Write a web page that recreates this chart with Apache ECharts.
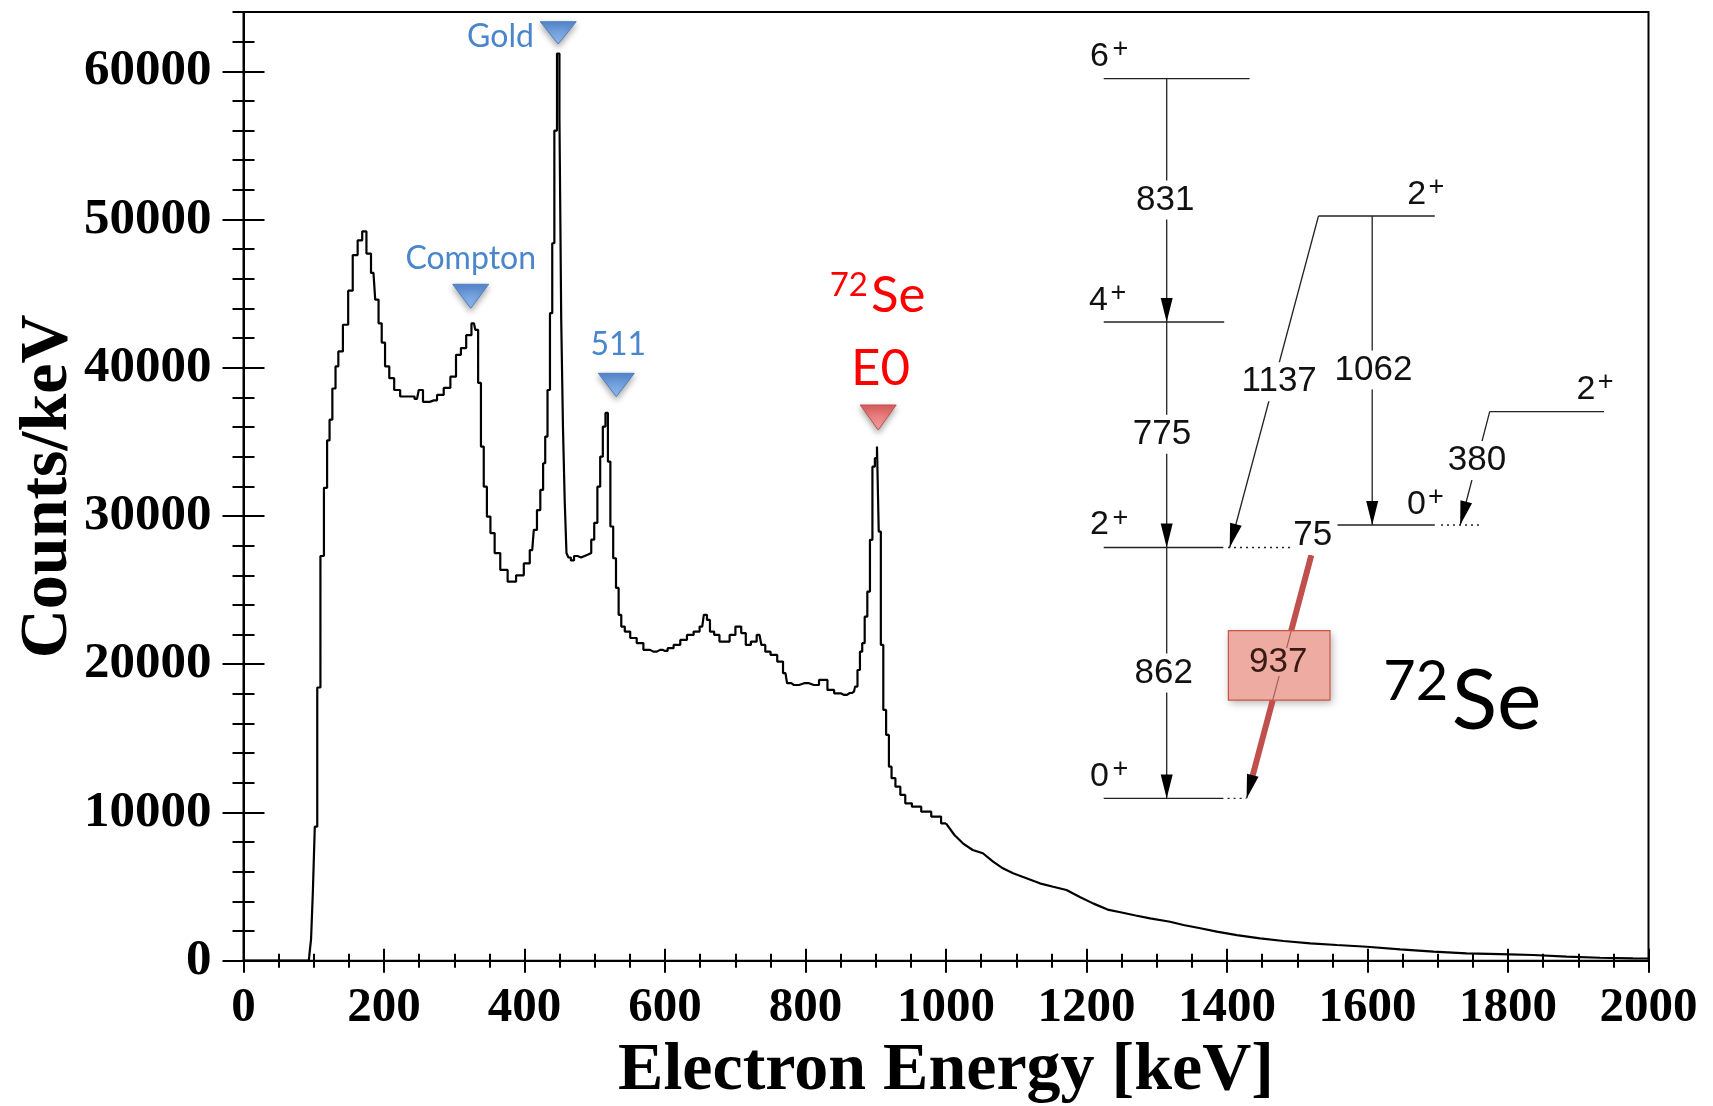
<!DOCTYPE html>
<html>
<head>
<meta charset="utf-8">
<script src="https://cdn.jsdelivr.net/npm/echarts@6/dist/echarts.min.js"></script>
<style>
html,body{margin:0;padding:0;background:#fff;}
#chart{width:1713px;height:1106px;}
</style>
</head>
<body>
<div id="chart"></div>
<script>
// ---- data ----
const energy = [0, 93, 95, 97.4, 100, 103, 107, 112, 117, 121, 124, 129, 133, 137, 146, 152, 159, 166, 172, 178,
  185, 190, 194.5, 199, 204, 211, 218, 228, 240, 247, 252, 259, 271, 280, 290, 299, 306, 313, 321, 328,
  332, 336, 340, 344, 349, 354, 361, 370, 382, 394, 404, 411, 415.5, 420, 425, 428, 431, 434.5, 438, 441,
  444, 448.5, 451, 453.5, 456, 458.5, 461, 464, 468, 473, 478, 483, 488, 493, 497, 501.5, 506, 509.5, 513.5, 517,
  520.5, 524, 528.5, 532, 536, 539.5, 546, 555, 564.5, 574, 583.5, 593, 600, 607.5, 617, 626.5, 636, 645.5, 653, 657.5,
  662, 666, 674, 681, 688.5, 695.5, 705, 712, 718, 726.5, 734.5, 740, 745.5, 755, 764.5, 771.5, 776, 783.5, 798, 812,
  826.5, 836, 845.5, 855, 863, 869, 872, 876, 879, 882.5, 886, 890, 893.5, 897, 900.5, 903, 905.5, 909, 912.5, 917,
  920.5, 924.5, 931.5, 938.5, 945.5, 957.5, 972, 986, 1000, 1012, 1024, 1038, 1052.5, 1067, 1081, 1095.5, 1114.5, 1133.5, 1152.5, 1171.5,
  1190.5, 1210, 1230, 1250, 1270, 1290.5, 1319, 1338, 1362, 1385.5, 1414, 1447, 1480.5, 1518.5, 1556.5, 1599, 1646.5, 1694, 1741, 1788.5,
  1836, 1883.5, 1931, 1978, 2000];
const counts = [0, 0, 500, 1480, 4610, 9050, 18430, 27300, 31900, 35100, 36500, 38600, 40100, 41100, 42900, 45200, 47600, 48600, 49200, 47700,
  46400, 44600, 43000, 41700, 40100, 39300, 38500, 38060, 38060, 37900, 38500, 37700, 37800, 38170, 38640, 39400, 40870, 41330, 42200, 43000,
  42560, 38980, 34680, 31980, 29960, 28850, 27500, 26360, 25570, 26000, 26800, 27700, 29060, 30400, 31760, 33560, 35360, 38500, 43680, 48400,
  56000, 61200, 56900, 43300, 36000, 31000, 27500, 27200, 27000, 27300, 27200, 27300, 27400, 27500, 28400, 29530, 31980, 34000, 36030, 36950,
  33670, 29290, 27150, 25150, 23330, 22540, 22200, 21770, 21430, 20970, 20850, 20970, 20900, 21080, 21300, 21640, 21980, 22200, 22540, 23330,
  22990, 22200, 21980, 21530, 21530, 21980, 22540, 22100, 21300, 21530, 21980, 21300, 20850, 20630, 20180, 19400, 18720, 18600, 18720, 18600,
  18940, 18270, 18040, 17930, 18060, 18150, 18490, 19610, 20850, 21420, 23210, 24900, 28390, 33330, 33900, 34680, 28950, 21300, 16920, 15230,
  13090, 12310, 11740, 11180, 10620, 10390, 10050, 9720, 9270, 8480, 7920, 7470, 7250, 6680, 6230, 5900, 5560, 5220, 4990, 4770,
  4300, 3850, 3450, 3250, 3050, 2860, 2630, 2410, 2190, 1960, 1730, 1510, 1330, 1170, 1060, 940, 770, 610, 500, 450,
  385, 270, 200, 160, 150];
const xTicks = [0, 200, 400, 600, 800, 1000, 1200, 1400, 1600, 1800, 2000];
const yMajorTicks = [0, 10000, 20000, 30000, 40000, 50000, 60000];
const peakLabels = ['Gold', 'Compton', '511'];
const transitionLabels = ['831', '775', '862', '1137', '1062', '380', '75', '937'];
const tailStartEnergy = 1000; // histogram drawn as steps below, as a fine line above

// ---- chart ----
const chart = echarts.init(document.getElementById('chart'), null, {renderer: 'canvas'});
const SERIF = '"Liberation Serif", "Times New Roman", serif';
const SANS = '"Liberation Sans", Arial, sans-serif';
const CAL = 'Lato, "Open Sans", sans-serif';
const gridRect = {left: 243.5, right: 64.5, top: 12, bottom: 145.3, outerBoundsMode: 'none', containLabel: false};

function xAx(idx, inside, withLabel) {
  return {
    type: 'value', gridIndex: idx, min: 0, max: 2000, interval: 200,
    axisLine: {show: true, onZero: false, lineStyle: {color: '#000', width: 2}},
    axisTick: {show: true, inside: inside, length: 12, lineStyle: {color: '#000', width: 2}},
    minorTick: {show: true, splitNumber: 4, length: 7, lineStyle: {color: '#000', width: 2}},
    splitLine: {show: false}, minorSplitLine: {show: false},
    axisLabel: withLabel ? {show: true, margin: 23, color: '#000', fontFamily: SERIF, fontWeight: 'bold', fontSize: 49,
      formatter: v => (xTicks.indexOf(v) >= 0 ? String(v) : '')} : {show: false},
    name: withLabel ? 'Electron Energy [keV]' : '', nameLocation: 'middle', nameGap: 77, nameMoveOverlap: false,
    nameTextStyle: {color: '#000', fontFamily: SERIF, fontWeight: 'bold', fontSize: 68}
  };
}
function yAx(idx, inside, major, withLabel) {
  const o = {
    type: 'value', gridIndex: idx, min: 0, max: 64000, interval: 2000,
    axisLine: {show: true, onZero: false, lineStyle: {color: '#000', width: 2}},
    axisTick: {show: true, inside: inside, length: major ? 21 : 11, lineStyle: {color: '#000', width: 2}},
    splitLine: {show: false},
    axisLabel: withLabel ? {show: true, margin: 32, color: '#000', fontFamily: SERIF, fontWeight: 'bold', fontSize: 51,
      padding: [7, 0, 0, 0],
      formatter: v => (yMajorTicks.indexOf(v) >= 0 ? String(v) : '')} : {show: false},
    name: withLabel ? 'Counts/keV' : '', nameLocation: 'middle', nameGap: 161, nameRotate: 90, nameMoveOverlap: false,
    nameTextStyle: {color: '#000', fontFamily: SERIF, fontWeight: 'bold', fontSize: 68}
  };
  if (major) o.axisTick.customValues = yMajorTicks;
  return o;
}

// ---- decorations (annotations & level scheme) ----
const G = [];
const Z = 50;
function ln(x1, y1, x2, y2, st, z) {
  G.push({type: 'line', z: z || Z, shape: {x1, y1, x2, y2}, style: Object.assign({stroke: '#222', lineWidth: 1.3}, st || {})});
}
function tx(str, x, y, font, fill, extra) {
  G.push({type: 'text', z: Z + 3, x: x, y: y, style: Object.assign({text: str, font: font, fill: fill,
    align: 'center', verticalAlign: 'middle', textAlign: 'center', textVerticalAlign: 'middle'}, extra || {})});
}
function poly(pts, st, z) {
  G.push({type: 'polygon', z: z || Z + 1, shape: {points: pts}, style: st});
}
function arrowHead(x1, y1, x2, y2, len, hw, color) {
  const dx = x2 - x1, dy = y2 - y1, L = Math.hypot(dx, dy);
  const ux = dx / L, uy = dy / L, nx = -uy, ny = ux;
  const bx = x2 - ux * len, by = y2 - uy * len;
  poly([[x2, y2], [bx + nx * hw, by + ny * hw], [bx - nx * hw, by - ny * hw]], {fill: color || '#000'});
}
function marker(cx, top, bot, hw, c1, c2, edge) {
  poly([[cx - hw, top], [cx + hw, top], [cx, bot]], {
    fill: new echarts.graphic.LinearGradient(0, 0, 0, 1, [{offset: 0, color: c1}, {offset: 1, color: c2}]),
    stroke: edge, lineWidth: 1,
    shadowBlur: 6, shadowColor: 'rgba(0,0,0,0.35)', shadowOffsetY: 3
  });
}

// peak markers
const BLUE = '#4A86CB';
tx(peakLabels[0], 500.5, 37, '32px ' + CAL, BLUE);
marker(558.2, 21.7, 44, 18, '#5689D0', '#94BDF0', '#4F7FC0');
tx(peakLabels[1], 470.7, 258.5, '32px ' + CAL, BLUE);
marker(470.7, 284.3, 308.3, 18, '#5689D0', '#94BDF0', '#4F7FC0');
tx(peakLabels[2], 618.3, 345, '32px ' + CAL, BLUE);
marker(616.3, 373.3, 396.7, 18, '#5689D0', '#94BDF0', '#4F7FC0');
// E0 marker (red)
tx('72', 848.8, 285.5, '33px ' + CAL, '#FF0000');
tx('Se', 871, 296, '51px ' + CAL, '#FF0000', {align: 'left', textAlign: 'left'});
tx('E0', 880.5, 369, '51px ' + CAL, '#FF0000');
marker(878.2, 405, 430, 18, '#E05E5E', '#F5A5A5', '#C0504D');

// level scheme
const LW = {stroke: '#222', lineWidth: 1.3};
const DOT = {stroke: '#222', lineWidth: 1.3, lineDash: [2, 4]};
ln(1103.7, 78.7, 1249.6, 78.7, LW);      // 6+
ln(1103.7, 322, 1224.2, 322, LW);        // 4+
ln(1103.7, 547.5, 1223.4, 547.5, LW);    // 2+
ln(1228, 547.5, 1290, 547.5, DOT);
ln(1103.7, 798.4, 1223.4, 798.4, LW);    // 0+
ln(1227.6, 798.4, 1246, 798.4, DOT);
ln(1318.5, 216, 1434.8, 216, LW);        // 2+ (upper)
ln(1337.5, 525, 1434.8, 525, LW);        // 0+ (middle)
ln(1441, 525, 1480, 525, DOT);
ln(1489.7, 411.7, 1604, 411.7, LW);      // 2+ (right)
ln(1166.7, 78.7, 1166.7, 322, LW);
arrowHead(1166.7, 78.7, 1166.7, 322, 24, 6);
ln(1166.7, 322, 1166.7, 547.5, LW);
arrowHead(1166.7, 322, 1166.7, 547.5, 24, 6);
ln(1166.7, 547.5, 1166.7, 798.4, LW);
arrowHead(1166.7, 547.5, 1166.7, 798.4, 24, 6);
ln(1372.2, 216, 1372.2, 525, LW);
arrowHead(1372.2, 216, 1372.2, 525, 24, 6);
ln(1318.5, 216, 1229.7, 547.5, LW);
arrowHead(1318.5, 216, 1229.7, 547.5, 24, 6);
ln(1489.7, 411.7, 1460.2, 525, LW);
arrowHead(1489.7, 411.7, 1460.2, 525, 24, 6);
// E0 937 transition
G.push({type: 'rect', z: Z - 1, shape: {x: 1228.4, y: 630.7, width: 101.6, height: 69.5},
  style: {fill: '#fff', shadowBlur: 8, shadowColor: 'rgba(0,0,0,0.3)', shadowOffsetX: 2, shadowOffsetY: 3}});
ln(1311.3, 555.3, 1246.6, 798.4, {stroke: '#222', lineWidth: 1.2});
ln(1311.3, 555.3, 1291.2, 630.7, {stroke: '#C0504D', lineWidth: 6}, Z + 1);
ln(1272.7, 700.2, 1252.7, 775.4, {stroke: '#C0504D', lineWidth: 6}, Z + 1);
arrowHead(1311.3, 555.3, 1246.6, 798.4, 24, 6);
G.push({type: 'rect', z: Z + 1, shape: {x: 1250, y: 648, width: 58, height: 28}, style: {fill: '#fff'}});
G.push({type: 'rect', z: Z + 2, shape: {x: 1228.4, y: 630.7, width: 101.6, height: 69.5},
  style: {fill: 'rgba(228,128,112,0.66)', stroke: '#C8564A', lineWidth: 1.2}});
const NUMF = '35px ' + SANS;
const BG = {backgroundColor: '#fff', padding: [2, 2]};
tx(transitionLabels[0], 1165.2, 200, NUMF, '#111', BG);
tx(transitionLabels[1], 1162, 434.2, NUMF, '#111', BG);
tx(transitionLabels[2], 1163.8, 673, NUMF, '#111', BG);
tx(transitionLabels[3], 1279.2, 381.7, NUMF, '#111', BG);
tx(transitionLabels[4], 1373.5, 370, NUMF, '#111', BG);
tx(transitionLabels[5], 1477, 460.5, NUMF, '#111', BG);
tx(transitionLabels[6], 1312.8, 535.5, NUMF, '#111', BG);
tx(transitionLabels[7], 1278.3, 662.3, NUMF, '#3a1a14');
const SPF = '34px ' + SANS, SUPF = '27px ' + SANS;
function spin(d, dx, dy, px, py) { tx(d, dx, dy, SPF, '#111'); tx('+', px, py, SUPF, '#111'); }
spin('6', 1099.5, 56.5, 1120.5, 49.5);
spin('4', 1098.5, 301, 1118.5, 293.3);
spin('2', 1099.5, 525, 1120.4, 518.4);
spin('0', 1099.5, 776.5, 1120.4, 769.6);
spin('2', 1416.8, 194.2, 1436.5, 187.5);
spin('0', 1416.5, 505, 1436, 497.5);
spin('2', 1586, 390, 1605.6, 382.5);
tx('72', 1415.7, 681.7, '56px ' + CAL, '#000');
tx('Se', 1451.7, 702, '84px ' + CAL, '#000', {align: 'left', textAlign: 'left'});

const allPoints = energy.map((e, i) => [e, counts[i]]);
const stepPart = allPoints.filter(p => p[0] <= tailStartEnergy);
const tailPart = allPoints.filter(p => p[0] >= tailStartEnergy);
const lineStyle = {color: '#000', width: 2.2};

const option = {
  backgroundColor: '#fff',
  animation: false,
  grid: [
    Object.assign({show: true, borderColor: '#000', borderWidth: 2, backgroundColor: 'transparent'}, gridRect),
    Object.assign({}, gridRect), Object.assign({}, gridRect), Object.assign({}, gridRect)
  ],
  xAxis: [xAx(0, false, true), xAx(1, true, false),
    {type: 'value', gridIndex: 2, min: 0, max: 2000, show: false},
    {type: 'value', gridIndex: 3, min: 0, max: 2000, show: false}],
  yAxis: [yAx(0, false, false, true), yAx(1, true, false, false), yAx(2, false, true, false), yAx(3, true, true, false)],
  series: [
    {type: 'line', xAxisIndex: 0, yAxisIndex: 0, data: stepPart, step: 'middle',
      showSymbol: false, symbol: 'none', clip: true, lineStyle: lineStyle, z: 10},
    {type: 'line', xAxisIndex: 0, yAxisIndex: 0, data: tailPart,
      showSymbol: false, symbol: 'none', clip: true, lineStyle: lineStyle, z: 10}
  ],
  graphic: {elements: G}
};
chart.setOption(option);
</script>
</body>
</html>
